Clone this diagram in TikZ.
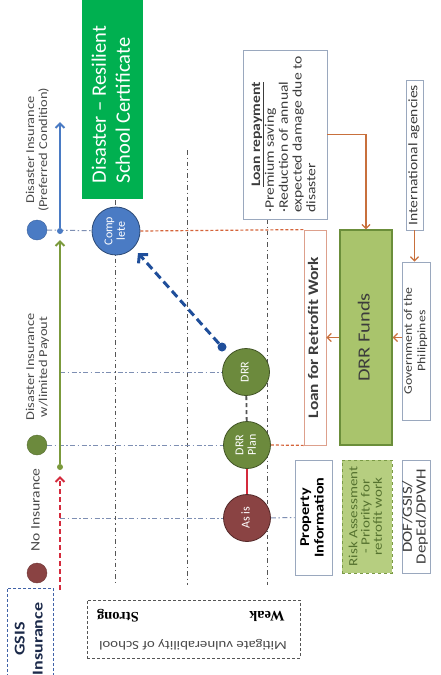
\documentclass[tikz,border=0pt]{standalone}
\usepackage{fontspec}
\setmainfont{Carlito}
\newfontfamily\widefont[FakeStretch=1.2]{Carlito}
\newfontfamily\axisfont{Liberation Serif}
\usetikzlibrary{arrows.meta}

% text set bottom-to-top, one tabular row per line
\newcommand{\uplines}[2][c]{\rotatebox{90}{\begin{tabular}{@{}#1@{}}#2\end{tabular}}}
\newcommand{\fsz}[2]{\fontsize{#1}{#2}\selectfont}

\definecolor{certgreen}{HTML}{00B050}
\definecolor{asisbrown}{HTML}{8A4343}
\definecolor{drrgreen}{HTML}{6C8A3D}
\definecolor{stageblue}{HTML}{4A7BC4}
\definecolor{jumpblue}{HTML}{1F4E9A}
\definecolor{noinsred}{HTML}{D42A3C}
\definecolor{linegreen}{HTML}{7B9A3C}
\definecolor{flowbrown}{HTML}{C8703C}
\definecolor{loandash}{HTML}{D5643A}
\definecolor{fundfill}{HTML}{A9C46C}
\definecolor{fundedge}{HTML}{6B8E3A}
\definecolor{riskfill}{HTML}{B6CE80}
\definecolor{riskedge}{HTML}{7A9A45}
\definecolor{risktext}{HTML}{55722F}
\definecolor{boxedge}{HTML}{9AA8BE}
\definecolor{loanedge}{HTML}{DDA08C}
\definecolor{gridblue}{HTML}{7E8FB3}
\definecolor{gridgray}{HTML}{555555}
\definecolor{labelgray}{HTML}{4A4A4A}
\definecolor{textgray}{HTML}{3C3C3C}
\definecolor{gsisnavy}{HTML}{1C2A4A}
\definecolor{gsisedge}{HTML}{4062A8}

\begin{document}
\begin{tikzpicture}[x=1pt,y=-1pt,
  toplabel/.style={inner sep=0pt, text=labelgray, font=\widefont\fsz{12}{13}},
  marker/.style={circle, fill=#1, draw=#1!80!black, minimum size=20pt, inner sep=0pt},
  joint/.style={circle, fill=#1, minimum size=6pt, inner sep=0pt},
  stage/.style={circle, draw=#1!60!black, fill=#1, line width=0.8pt,
    minimum size=47pt, inner sep=0pt, text=white, font=\fsz{12}{12.5}},
  infobox/.style={draw=boxedge, line width=0.8pt, inner sep=0pt, text=textgray},
  hgrid/.style={gridblue, line width=1pt, dash pattern=on 5pt off 2.5pt on 1.5pt off 2.5pt},
  vgrid/.style={gridgray, line width=1pt, dash pattern=on 4.5pt off 3pt on 1.2pt off 3pt},
  axisarrow/.style={#1, line width=2pt, -{Straight Barb[length=4.5pt,width=9pt]}},
  flow/.style={flowbrown, line width=1.3pt, -{Straight Barb[length=4pt,width=8pt]}},
  loanlink/.style={loandash, line width=1.2pt, dash pattern=on 3pt off 2pt}]

\useasboundingbox (0,0) rectangle (441,675);
\fill[white] (0,0) rectangle (441,675);

% mitigation level separators
\coordinate (v1a) at (115,200); \coordinate (v1b) at (115,585);
\coordinate (v2a) at (187,150); \coordinate (v2b) at (187,585);
\coordinate (v3a) at (267,219); \coordinate (v3b) at (267,585);
\draw[vgrid] (v1a) -- (v1b);
\draw[vgrid] (v2a) -- (v2b);
\draw[vgrid] (v3a) -- (v3b);

% insurance states
\node[marker=stageblue] (bluedot) at (37,230) {};
\node[marker=drrgreen] (greendot) at (37,445) {};
\node[marker=asisbrown] (browndot) at (37,573) {};
\node[toplabel] (preflabel) at (38,150) {\uplines{Disaster Insurance\\(Preferred Condition)}};
\node[toplabel] (limlabel) at (38,367) {\uplines{Disaster Insurance\\w/limited Payout}};
\node[toplabel, font=\widefont\fsz{13}{13}] (noinslabel) at (37,510) {\uplines{No Insurance}};

% certificate
\node[fill=certgreen, minimum width=61pt, minimum height=199pt, inner sep=0pt] (cert) at (112.5,99.5) {};
\node[text=white, inner sep=0pt, font=\fsz{20.5}{24}] (certtext) at (113,104.5)
  {\uplines[l]{Disaster – Resilient\\School Certificate}};

% retrofit stages
\node[stage=asisbrown] (asis) at (247,518) {\uplines{As is}};
\node[stage=drrgreen] (plan) at (247,445) {\uplines{DRR\\Plan}};
\node[stage=drrgreen] (drr) at (246,372) {\uplines{DRR}};
\node[stage=stageblue, minimum size=48pt] (complete) at (116,231) {\uplines{Comp\\lete}};

% funding boxes
\node[infobox, minimum width=84pt, minimum height=169pt, font=\widefont\fsz{13}{13.8}] (loanrep) at (285,134.5)
  {\uplines[l]{\multicolumn{1}{@{}c@{}}{\bfseries\underline{Loan repayment}}\\
   ·Premium saving\\ ·Reduction of annual\\ expected damage due to\\ disaster}};
\node[infobox, draw=loanedge, minimum width=22pt, minimum height=215pt,
  font=\widefont\bfseries\fsz{14.5}{15}] (loanfix) at (315,337.5) {\uplines{Loan for Retrofit Work}};
\node[draw=fundedge, fill=fundfill, line width=1.2pt, minimum width=52pt, minimum height=215pt,
  inner sep=0pt, text=textgray, font=\widefont\fsz{17}{18}] (funds) at (366,337.5) {\uplines{DRR Funds}};
\node[infobox, minimum width=17pt, minimum height=150pt, font=\widefont\fsz{13}{14}] (intl) at (414.5,155)
  {\uplines{International agencies}};
\node[infobox, minimum width=28pt, minimum height=158pt, font=\widefont\fsz{11.5}{13.5}] (gov) at (416,341)
  {\uplines{Government of the\\Philippines}};

% information boxes
\node[infobox, minimum width=37pt, minimum height=115pt, text=black, font=\widefont\bfseries\fsz{13.5}{14.5}] (prop) at (313.5,517.5)
  {\uplines{Property\\Information}};
\node[draw=riskedge, fill=riskfill, line width=1pt, dashed, minimum width=50pt, minimum height=113pt,
  inner sep=0pt, text=risktext, font=\widefont\fsz{12.5}{12}] (risk) at (367,516.5)
  {\uplines{Risk Assessment\\- Priority for\\retrofit work}};
\node[infobox, minimum width=28pt, minimum height=113pt, font=\widefont\fsz{14}{13.5}] (dof) at (416,516.5)
  {\uplines{DOF/GSIS/\\DepEd/DPWH}};

% insurer and axis legend
\node[draw=gsisedge, line width=1pt, dash pattern=on 3pt off 2pt, minimum width=46pt, minimum height=102pt,
  inner sep=0pt, text=gsisnavy, font=\widefont\bfseries\fsz{15}{18}] (gsis) at (30,639)
  {\uplines{GSIS\\Insurance}};
\node[draw=gridgray, line width=1pt, dash pattern=on 3pt off 2pt, minimum width=213pt, minimum height=58pt,
  inner sep=0pt] (mitig) at (193.5,629) {};
\node[inner sep=0pt, text=black, font=\axisfont\bfseries\fsz{14.5}{15}] (weak) at (267,616) {\rotatebox{180}{Weak}};
\node[inner sep=0pt, text=black, font=\axisfont\bfseries\fsz{14.5}{15}] (strong) at (118,616) {\rotatebox{180}{Strong}};
\node[inner sep=0pt, text=labelgray, font=\widefont\fsz{12.4}{13}] (mitigtext) at (193,645)
  {\rotatebox{180}{Mitigate vulnerability of School}};

% state guide lines
\coordinate (drrtick) at (60,372);
\coordinate (redtick) at (60,518);
\draw[hgrid] (bluedot) -- (complete);
\draw[hgrid] (drrtick) -- (drr);
\draw[hgrid] (greendot) -- (plan);
\draw[hgrid] (redtick) -- (asis);
\draw[hgrid] (asis) -- (prop);

% insurance progression
\coordinate (redstart) at (60,590);
\coordinate (redtip) at (60,476);
\coordinate (greentip) at (60,240);
\coordinate (bluetip) at (60,122);
\node[joint=linegreen] (greenjoint) at (60,467) {};
\node[joint=stageblue] (bluejoint) at (60,231) {};
\draw[axisarrow=noinsred, dash pattern=on 5pt off 3pt] (redstart) -- (redtip);
\draw[axisarrow=linegreen] (greenjoint) -- (greentip);
\draw[axisarrow=stageblue] (bluejoint) -- (bluetip);

% stage links
\draw[noinsred, line width=1.6pt] (asis) -- (plan);
\draw[gridgray, line width=1.8pt, dash pattern=on 4pt off 3pt] (plan) -- (drr);
\node[circle, fill=jumpblue, minimum size=9pt, inner sep=0pt] (drrdot) at (222,347) {};
\coordinate (jumptip) at (138,253);
\draw[jumpblue, line width=3pt, dash pattern=on 8pt off 4.5pt,
  -{Straight Barb[length=6pt,width=13pt]}] (drrdot) -- (jumptip);

% loan span
\draw[loanlink] (complete.east) -- (loanfix.north west);
\draw[loanlink] (plan.east) -- (loanfix.south west);

% fund flows
\draw[flow] (loanrep.east) -| (funds.north);
\draw[flow] (intl.south) -- (intl.south |- gov.north);
\draw[flow] (funds.east -| gov.west) -- (funds.east);
\draw[flow] (funds.west) -- (loanfix.east);

\end{tikzpicture}
\end{document}
